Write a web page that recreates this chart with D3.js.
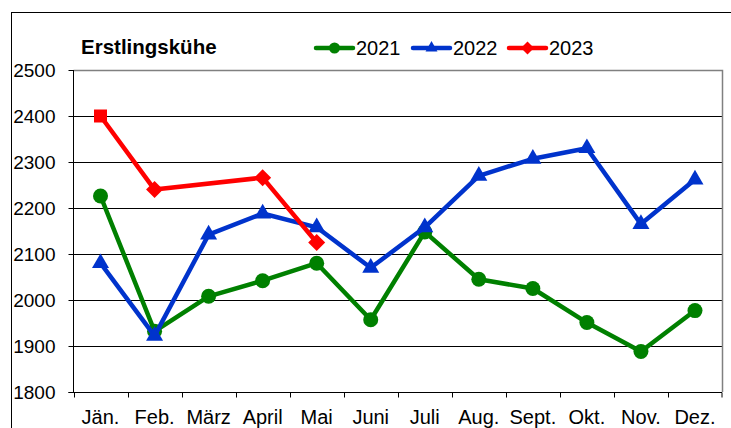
<!DOCTYPE html>
<html><head><meta charset="utf-8">
<script src="https://cdn.jsdelivr.net/npm/d3@7"></script>
<style>body{margin:0;background:#fff}svg{display:block;font-family:"Liberation Sans",Arial,sans-serif}</style>
</head><body>
<script>
const months = ["Jän.","Feb.","März","April","Mai","Juni","Juli","Aug.","Sept.","Okt.","Nov.","Dez."];
const v2021 = [2226,1932,2008,2042,2080,1957,2148,2045,2025,1951,1888,1977];
const v2022 = [2080,1922,2142,2188,2158,2070,2158,2270,2307,2330,2165,2262];
const v2023 = [2400,2240,null,2266,2125];
const yTicks = [1800,1900,2000,2100,2200,2300,2400,2500];
const title = "Erstlingskühe";
const seriesNames = ["2021","2022","2023"];

const W=731,H=428;
const svg=d3.select("body").append("svg").attr("width",W).attr("height",H);
svg.append("rect").attr("x",11.5).attr("y",12.5).attr("width",W).attr("height",H).attr("fill","#fff").attr("stroke","#000");

const L=73.5,R=722,T=70,B=392;
const x=d3.scaleBand().domain(months).range([L,R]);
const y=d3.scaleLinear().domain([1800,2500]).range([B,T]);

// grid
svg.append("g").selectAll("line").data(yTicks.filter(d=>d>1800&&d<2500)).join("line")
  .attr("x1",L).attr("x2",R).attr("y1",d=>Math.round(y(d))+0.5).attr("y2",d=>Math.round(y(d))+0.5)
  .attr("stroke","#000").attr("stroke-width",1);
// plot border top/right gray
svg.append("path").attr("d",`M${L},${T+0.5}H${R+0.5}V${B}`).attr("fill","none").attr("stroke","#808080").attr("stroke-width",1.5);

// axes
const ya=svg.append("g").attr("transform",`translate(${L},0)`)
  .call(d3.axisLeft(y).tickValues(yTicks).tickSize(5).tickPadding(13).tickFormat(d3.format("d")));
ya.select(".domain").attr("stroke","#000").attr("d",`M0,${T}V${B}`);
ya.selectAll("text").attr("font-size",19).attr("fill","#000").attr("font-family",'"Liberation Sans",Arial,sans-serif');

const xa=svg.append("g").attr("transform",`translate(0,${B+0.5})`);
xa.append("line").attr("x1",L-5).attr("x2",R).attr("stroke","#000");
xa.selectAll("line.t").data(months.concat(["end"])).join("line").attr("class","t")
  .attr("x1",(d,i)=>i<12?Math.round(x(d))+0.5:R).attr("x2",(d,i)=>i<12?Math.round(x(d))+0.5:R)
  .attr("y1",0).attr("y2",5).attr("stroke","#000");
xa.selectAll("text").data(months).join("text")
  .attr("x",d=>x(d)+x.bandwidth()/2).attr("y",31).attr("text-anchor","middle")
  .attr("font-size",20).attr("fill","#000").text(d=>d);

const cx=i=>x(months[i])+x.bandwidth()/2;
const line=d3.line().x(d=>cx(d.i)).y(d=>y(d.v));
const toPts=a=>a.map((v,i)=>({v,i})).filter(d=>d.v!=null);

const colors={"2021":"#008000","2022":"#0033CC","2023":"#FF0000"};
const circle=r=>`M${-r},0a${r},${r} 0 1,0 ${2*r},0a${r},${r} 0 1,0 ${-2*r},0Z`;
const tri=s=>{const h=s*Math.sqrt(3)/2;return `M0,${-h*2/3}L${s/2},${h/3}L${-s/2},${h/3}Z`;};
const diam=r=>`M0,${-r}L${r},0L0,${r}L${-r},0Z`;
const sq=r=>`M${-r},${-r}H${r}V${r}H${-r}Z`;

function drawSeries(vals,color,shapeFn){
  const pts=toPts(vals);
  svg.append("path").attr("d",line(pts)).attr("fill","none").attr("stroke",color).attr("stroke-width",4.5).attr("stroke-linejoin","round");
  svg.append("g").selectAll("path").data(pts).join("path")
    .attr("transform",d=>`translate(${cx(d.i)},${y(d.v)})`).attr("d",d=>shapeFn(d)).attr("fill",color);
}
drawSeries(v2021,colors["2021"],()=>circle(7.5));
drawSeries(v2022,colors["2022"],()=>tri(17));
drawSeries(v2023,colors["2023"],d=>d.i===0?sq(6.5):diam(8.5));

// title
svg.append("text").attr("x",81).attr("y",54).attr("font-size",20.5).attr("font-weight","bold").attr("fill","#000").text(title);

// legend
const legX=[316,413,509];
const legShapes=[circle(5.5),tri(12),diam(6.5)];
seriesNames.forEach((n,k)=>{
  const g=svg.append("g").attr("transform",`translate(${legX[k]},48)`);
  g.append("line").attr("x1",0).attr("x2",37).attr("stroke",colors[n]).attr("stroke-width",4.5).attr("stroke-linecap","round");
  g.append("path").attr("transform","translate(18.5,0)").attr("d",legShapes[k]).attr("fill",colors[n]);
  g.append("text").attr("x",40).attr("y",7).attr("font-size",20).attr("fill","#000").text(n);
});
</script>
</body></html>
